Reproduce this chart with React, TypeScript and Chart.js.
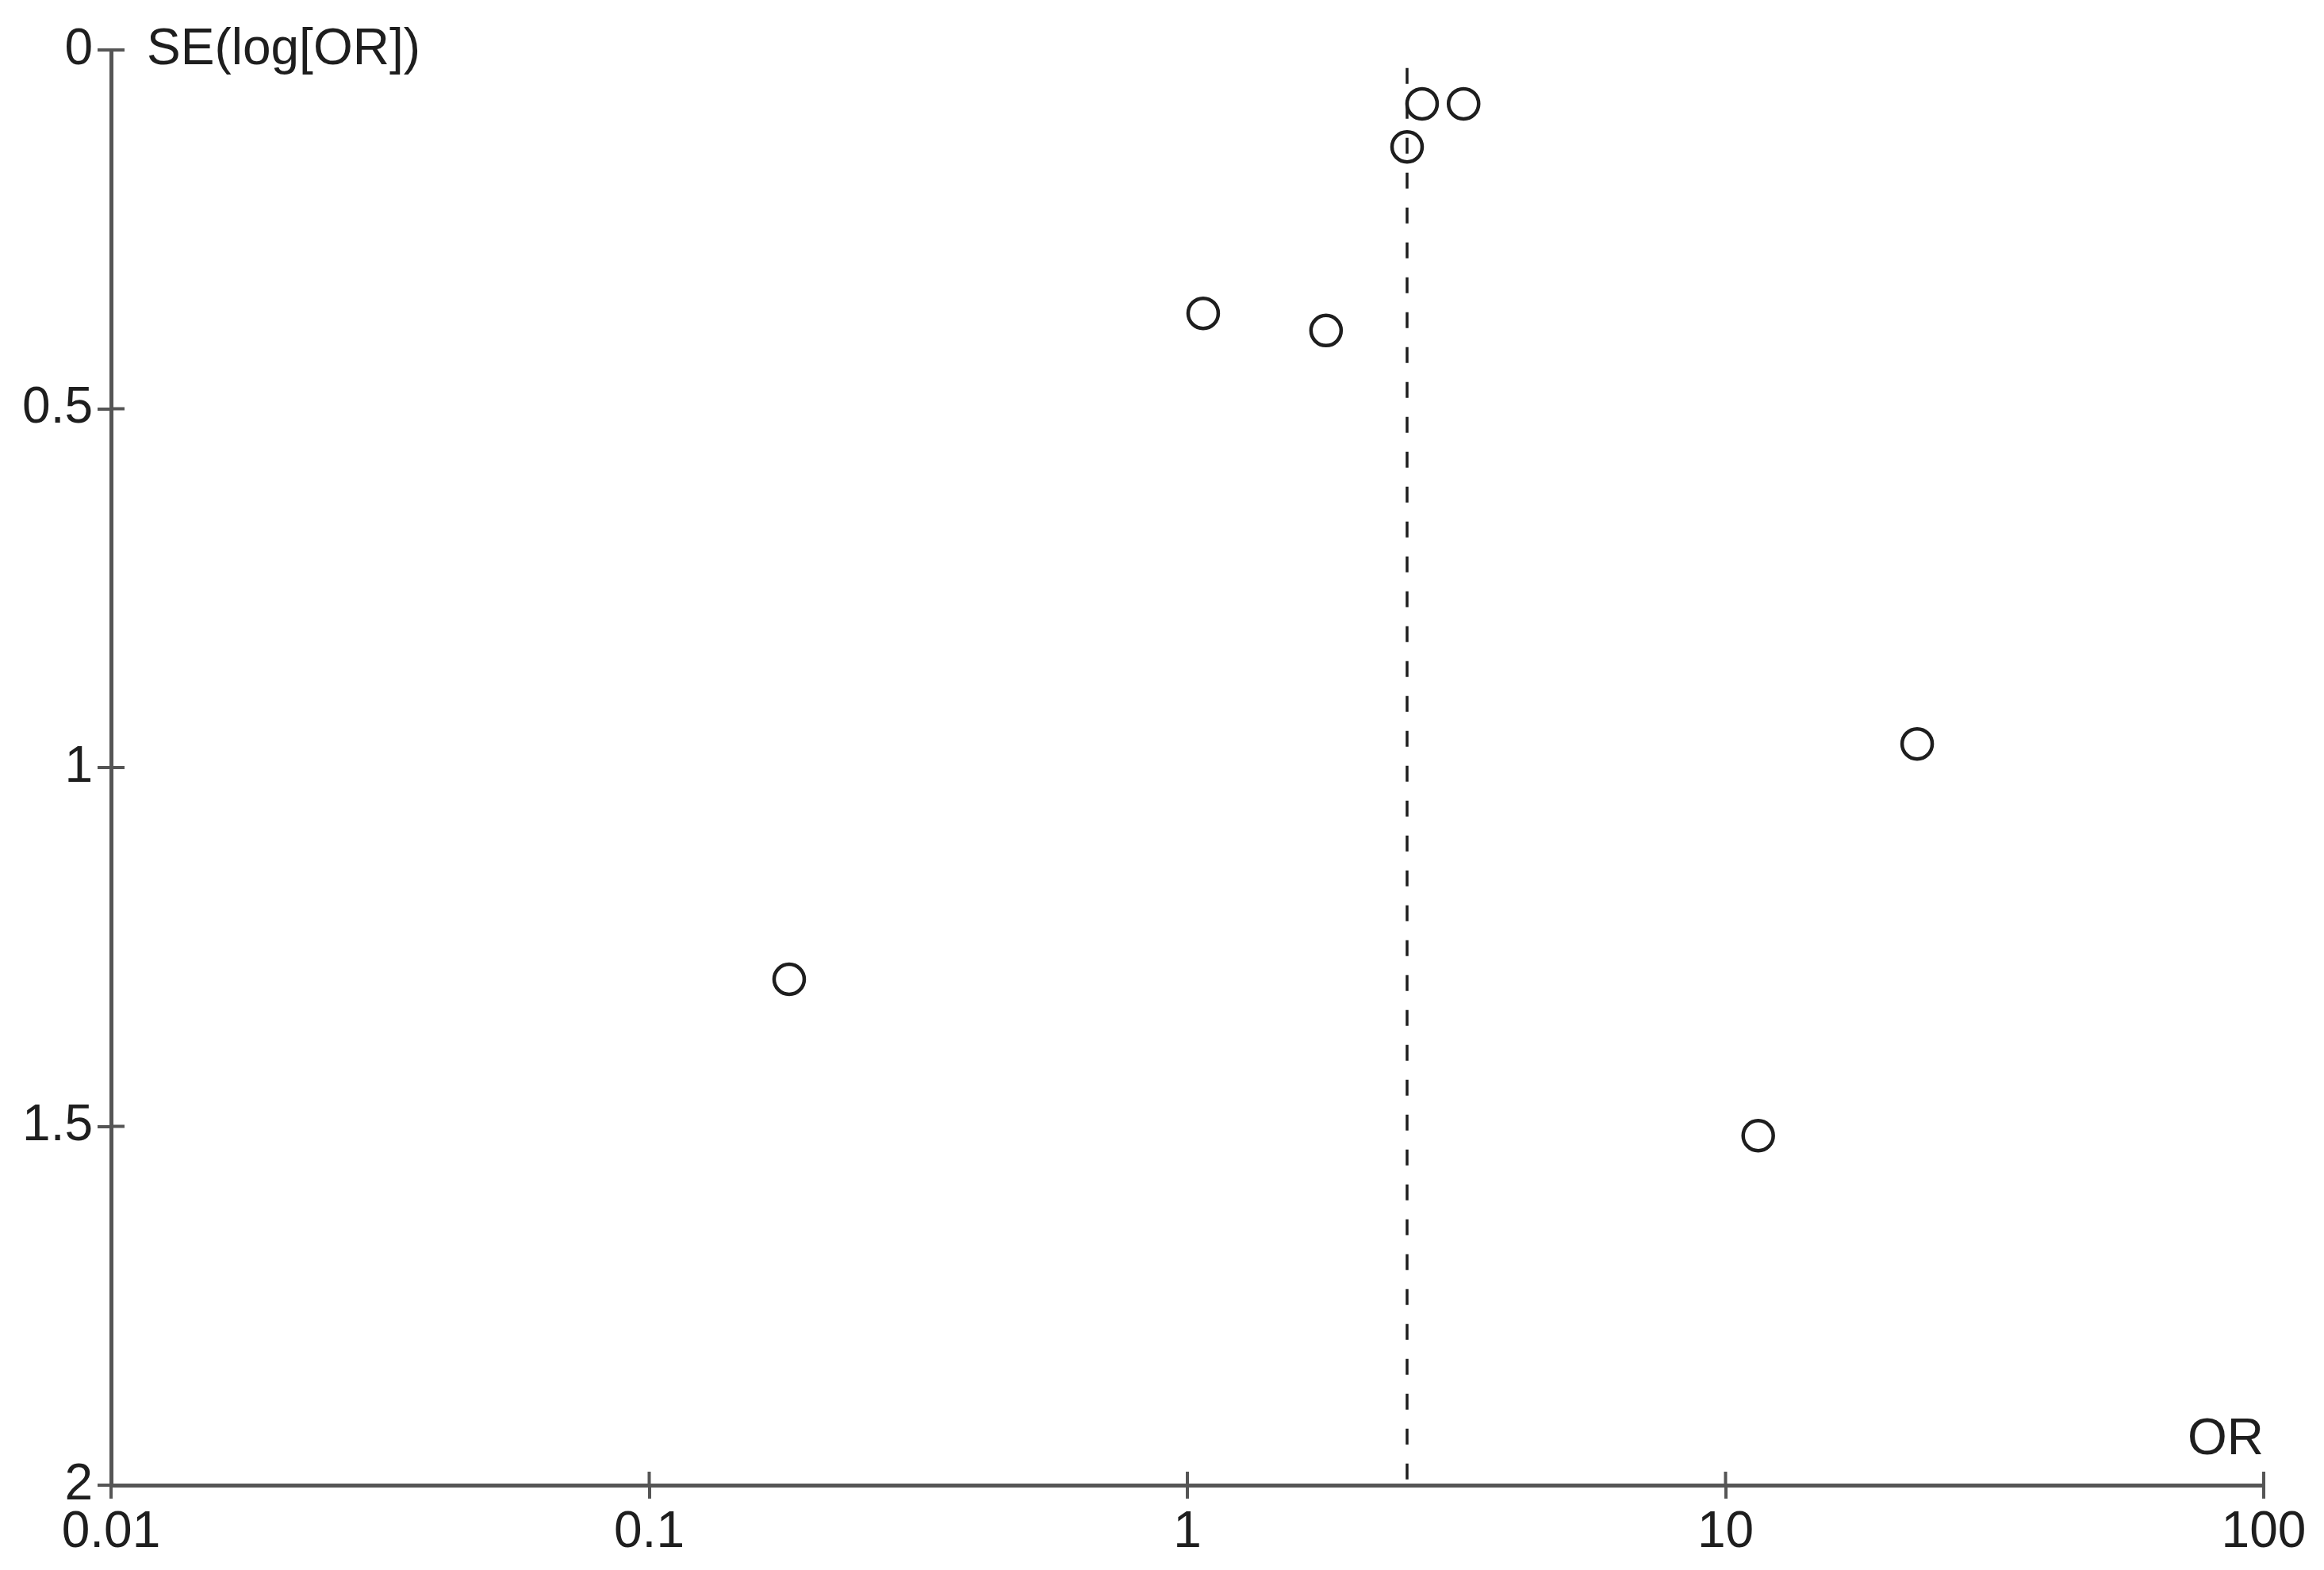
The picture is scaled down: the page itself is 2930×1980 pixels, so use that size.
import React, { useEffect, useRef } from "react";
import { Chart, registerables } from "chart.js";

Chart.register(...registerables);

const studyOR = [2.73, 3.26, 2.56, 1.07, 1.81, 22.7, 0.182, 11.5];
const studySE = [0.075, 0.075, 0.135, 0.367, 0.391, 0.967, 1.295, 1.513];
const pooledOR = 2.56;
const pooledLineSE = [0.025, 2];
const xTickValues = [0.01, 0.1, 1, 10, 100];
const yTickValues = [0, 0.5, 1, 1.5, 2];
const yAxisTitle = "SE(log[OR])";
const xAxisTitle = "OR";

const W = 2930;
const H = 1980;
const FONT = "'Liberation Sans', Arial, sans-serif";
const FONT_SIZE = 64;
const AXIS_COLOR = "#555";
const INK = "#1e1e1e";
const TICK = 17;

const innerTicks = {
  id: "innerTicks",
  afterDraw(chart: any) {
    const { ctx, chartArea, scales } = chart;
    const x = scales.x;
    const y = scales.y;
    ctx.save();
    ctx.strokeStyle = AXIS_COLOR;
    ctx.lineWidth = 4;
    ctx.beginPath();
    yTickValues.forEach((v) => {
      const py = y.getPixelForValue(v);
      ctx.moveTo(chartArea.left, py);
      ctx.lineTo(chartArea.left + TICK, py);
    });
    xTickValues.forEach((v) => {
      const px = x.getPixelForValue(v);
      ctx.moveTo(px, chartArea.bottom);
      ctx.lineTo(px, chartArea.bottom - TICK);
    });
    ctx.stroke();
    ctx.fillStyle = INK;
    ctx.font = `${FONT_SIZE}px ${FONT}`;
    ctx.textBaseline = "middle";
    ctx.textAlign = "left";
    ctx.fillText(yAxisTitle, chartArea.left + 45, chartArea.top);
    ctx.textAlign = "right";
    ctx.fillText(xAxisTitle, chartArea.right, chartArea.bottom - 57);
    ctx.restore();
  },
};

export default function App() {
  const ref = useRef<HTMLCanvasElement | null>(null);
  useEffect(() => {
    if (!ref.current) return;
    const chart = new Chart(ref.current, {
      type: "scatter",
      data: {
        datasets: [
          {
            type: "line",
            data: pooledLineSE.map((se) => ({ x: pooledOR, y: se })),
            borderColor: INK,
            borderWidth: 3.5,
            borderDash: [20, 24],
            pointRadius: 0,
            fill: false,
          } as any,
          {
            data: studyOR.map((or, i) => ({ x: or, y: studySE[i] })),
            pointRadius: 19,
            pointBorderWidth: 4.5,
            borderColor: INK,
            backgroundColor: "rgba(0,0,0,0)",
            pointHoverRadius: 19,
          },
        ],
      },
      options: {
        responsive: false,
        animation: false,
        events: [],
        layout: { padding: { left: 0, top: 63, right: 76, bottom: 0 } },
        plugins: { legend: { display: false }, tooltip: { enabled: false } },
        scales: {
          x: {
            type: "logarithmic",
            min: 0.01,
            max: 100,
            afterBuildTicks: (s: any) => {
              s.ticks = xTickValues.map((v) => ({ value: v }));
            },
            afterFit: (s: any) => {
              s.height = 107;
            },
            ticks: {
              autoSkip: false,
              maxRotation: 0,
              padding: 5,
              color: INK,
              font: { family: FONT, size: FONT_SIZE },
              callback: (v: any) => String(v),
            },
            border: { display: true, color: AXIS_COLOR, width: 5 },
            grid: {
              display: true,
              drawOnChartArea: false,
              drawTicks: true,
              tickLength: TICK,
              color: AXIS_COLOR,
              lineWidth: 4,
            },
          },
          y: {
            type: "linear",
            reverse: true,
            min: 0,
            max: 2,
            afterBuildTicks: (s: any) => {
              s.ticks = yTickValues.map((v) => ({ value: v }));
            },
            afterFit: (s: any) => {
              s.width = 140;
            },
            ticks: {
              autoSkip: false,
              padding: 6,
              color: INK,
              font: { family: FONT, size: FONT_SIZE },
              callback: (v: any) => String(v),
            },
            border: { display: true, color: AXIS_COLOR, width: 5 },
            grid: {
              display: true,
              drawOnChartArea: false,
              drawTicks: true,
              tickLength: TICK,
              color: AXIS_COLOR,
              lineWidth: 4,
            },
          },
        },
      },
      plugins: [innerTicks],
    });
    return () => chart.destroy();
  }, []);
  return (
    <div style={{ position: "fixed", left: 0, top: 0, width: W, height: H, background: "#fff" }}>
      <canvas ref={ref} width={W} height={H} style={{ width: W, height: H, display: "block" }} />
    </div>
  );
}
